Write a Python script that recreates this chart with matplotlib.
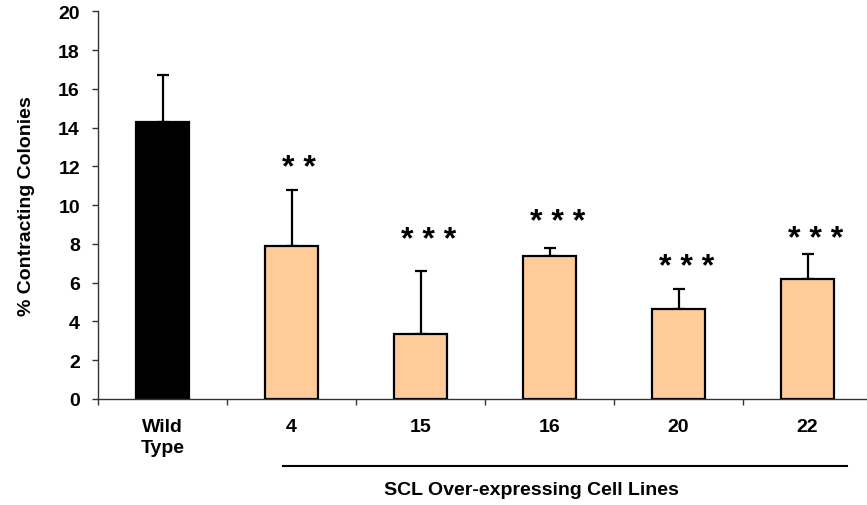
import matplotlib
matplotlib.use("Agg")
import matplotlib.pyplot as plt
import matplotlib.transforms as mtransforms

plt.rcParams['font.family'] = ['Liberation Sans', 'DejaVu Sans']

categories = ["Wild\nType", "4", "15", "16", "20", "22"]
means = [14.27, 7.91, 3.37, 7.39, 4.64, 6.19]
err_upper = [2.43, 2.89, 3.23, 0.42, 1.03, 1.27]
stars = ["", "* *", "* * *", "* * *", "* * *", "* * *"]
star_y = [0, 11.9, 8.2, 9.15, 6.8, 8.25]
yticks = list(range(0, 21, 2))
group_label = "SCL Over-expressing Cell Lines"

FS = 14

fig = plt.figure(figsize=(8.67, 5.06), dpi=100)
ax = fig.add_axes([98 / 867, 106 / 506, 774 / 867, 387.7 / 506])

x = list(range(len(categories)))
colors = ["black"] + ["#FFCC99"] * (len(categories) - 1)
ax.bar(x, means, width=0.41, color=colors, edgecolor="black", linewidth=1.6, zorder=2)
ax.errorbar(x, means, yerr=[[0] * len(means), err_upper], fmt="none",
            ecolor="black", elinewidth=1.6, capsize=4.3, capthick=1.6, zorder=1)

for xi, s, sy in zip(x, stars, star_y):
    if s:
        ax.text(xi + 0.06, sy, s, ha="center", va="center", fontsize=23,
                fontweight="bold")

ax.set_xlim(-0.5, 5.5)
ax.set_ylim(0, 20)
ax.set_yticks(yticks)
ax.set_yticklabels([str(t) for t in yticks], fontsize=FS, fontweight="bold")
ax.set_xticks(x)
ax.set_xticklabels(categories, fontsize=FS, fontweight="bold", linespacing=1.3)
ax.tick_params(axis="x", length=0, pad=14)
ax.set_xticks([i + 0.5 for i in range(-1, len(categories))], minor=True)
ax.tick_params(axis="x", which="minor", length=4, width=1, color="#333333")
ax.tick_params(axis="y", length=4, width=1, color="#333333", pad=9)

for side in ("top", "right"):
    ax.spines[side].set_visible(False)
for side in ("left", "bottom"):
    ax.spines[side].set_color("#333333")
    ax.spines[side].set_linewidth(1.0)

ax.set_ylabel("% Contracting Colonies", fontsize=FS, fontweight="bold", labelpad=17)

# bracket line and label under the over-expressing lines
trans = mtransforms.blended_transform_factory(ax.transData, fig.transFigure)
ax.plot([0.934, 5.306], [1 - 467 / 506] * 2, color="black", linewidth=1.5,
        transform=trans, clip_on=False)
ax.text(2.857, 1 - 491 / 506, group_label, transform=trans, ha="center",
        va="center", fontsize=FS, fontweight="bold")

fig.savefig("out.png", dpi=100)
